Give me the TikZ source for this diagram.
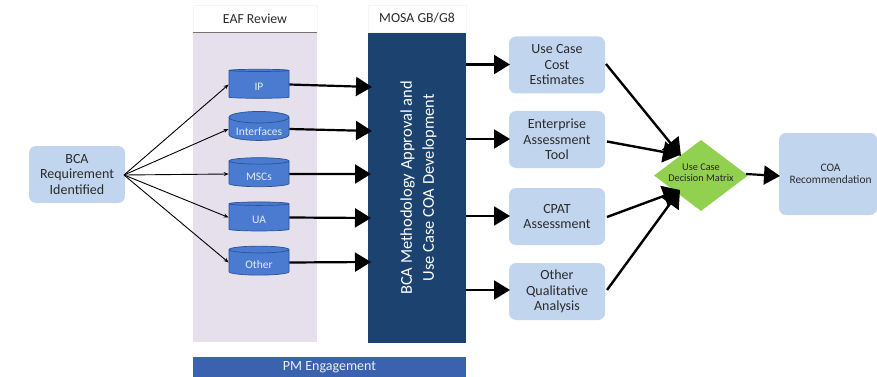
\documentclass[tikz,border=0pt]{standalone}
\usepackage{fontspec}
\setmainfont{Carlito}
\usetikzlibrary{shapes.symbols,shapes.geometric,arrows.meta}
\definecolor{boxfill}{HTML}{C2D5EE}
\definecolor{bandfill}{HTML}{E6E0EC}
\definecolor{mosafill}{HTML}{1C4370}
\definecolor{pmfill}{HTML}{3A62AE}
\definecolor{cylfill}{HTML}{4A7BD0}
\definecolor{cylline}{HTML}{2A5298}
\definecolor{txt}{HTML}{2B2B2B}
\definecolor{diamondgreen}{HTML}{92D050}
\newcommand{\dbtext}[1]{\raisebox{-2.5pt}[\height][0pt]{#1}}
\tikzset{
  softbox/.style={draw=none,fill=boxfill,rounded corners=7pt,inner sep=0pt,align=center,text=txt,font=\fontsize{14}{15.5}\selectfont},
  db/.style={cylinder,shape border rotate=90,aspect=0.25,draw=cylline,line width=0.7pt,fill=cylfill,minimum width=60pt,minimum height=29pt,inner sep=0pt,text=white!85!cylfill,font=\fontsize{11.5}{12}\selectfont},
  head/.style={draw=black!4,line width=0.5pt,fill=white,inner sep=0pt,text=txt,font=\fontsize{13.8}{15}\selectfont},
  fan/.style={-{Stealth[length=5pt,width=4pt]},line width=0.9pt,black},
  heavy/.style={-{Triangle[length=16pt,width=19pt]},line width=2.2pt,black},
  heavier/.style={-{Triangle[length=17pt,width=21pt]},line width=2.4pt,black},
}
\begin{document}
\begin{tikzpicture}[x=1pt,y=-1pt]
\useasboundingbox (0,0) rectangle (877,377);
\fill[white] (0,0) rectangle (877,377);
% bands and headers
\node[fill=bandfill,inner sep=0pt,minimum width=124pt,minimum height=310pt] (eaf) at (255,187) {};
\node[head,minimum width=124pt,minimum height=27pt] (eafh) at (255,18.5) {EAF Review};
\draw[black!55,line width=0.6pt] (eafh.south west) -- (eafh.south east);
\node[fill=mosafill,inner sep=0pt,minimum width=98pt,minimum height=311pt] (mosa) at (417,187.5) {};
\node[head,minimum width=98pt,minimum height=27pt] (mosah) at (417,18.5) {MOSA GB/G8};
\node[rotate=90,text=white,align=center,inner sep=0pt,font=\fontsize{16.5}{22}\selectfont] (mosat) at (418.5,188) {BCA Methodology Approval and\\Use Case COA Development};
\node[fill=pmfill,inner sep=0pt,minimum width=273pt,minimum height=20pt,text=white!90!pmfill,font=\fontsize{14}{15}\selectfont] (pm) at (329.5,367) {PM Engagement};
% boxes
\node[softbox,minimum width=96pt,minimum height=57pt] (bca) at (77,174.5) {BCA\\Requirement\\Identified};
\node[db] (ip) at (259,84.5) {\dbtext{IP}};
\node[db] (if) at (259,129) {\dbtext{Interfaces}};
\node[db] (ms) at (259,174) {\dbtext{MSCs}};
\node[db] (ua) at (259,217.5) {\dbtext{UA}};
\node[db] (ot) at (259,262.5) {\dbtext{Other}};
\node[softbox,minimum width=96pt,minimum height=57pt] (uc) at (557,65) {Use Case\\Cost\\Estimates};
\node[softbox,minimum width=96pt,minimum height=57pt] (ea) at (557,139.5) {Enterprise\\Assessment\\Tool};
\node[softbox,minimum width=96pt,minimum height=57pt] (cp) at (557,216.5) {CPAT\\Assessment};
\node[softbox,minimum width=96pt,minimum height=57pt] (oq) at (557,291.5) {Other\\Qualitative\\Analysis};
\node[diamond,fill=diamondgreen,inner sep=0pt,minimum width=94pt,minimum height=71pt,label={[text=black!85,align=center,inner sep=0pt,yshift=3pt,font=\fontsize{10.3}{11}\selectfont]center:Use Case\\Decision Matrix}] (dm) at (701,175.5) {};
\node[softbox,minimum width=98pt,minimum height=82pt,font=\fontsize{11.4}{12}\selectfont] (coa) at (828,174) {\hspace*{5pt}COA\\\hspace*{5pt}Recommendation};
% free ends
\coordinate (fan) at (124,175);
\coordinate (m1) at (372,87); \coordinate (m2) at (372,131); \coordinate (m3) at (371,174); \coordinate (m4) at (371,218); \coordinate (m5) at (371,262);
\coordinate (o1) at (466,64.5); \coordinate (o2) at (466,139); \coordinate (o3) at (466,216); \coordinate (o4) at (466,290);
\coordinate (u1) at (510,64.5); \coordinate (u2) at (510,139); \coordinate (u3) at (510,216); \coordinate (u4) at (510,290);
\coordinate (d1) at (681,156); \coordinate (d2) at (680,155); \coordinate (d3) at (680,190); \coordinate (d4) at (680,190);
\coordinate (s1) at (606,64); \coordinate (s2) at (607,141.5); \coordinate (s3) at (607,217); \coordinate (s4) at (607,290);
\coordinate (dr) at (746,174); \coordinate (ci) at (780,176);
% connectors
\draw[fan] (fan) -- (ip.west);
\draw[fan] (fan) -- (if.west);
\draw[fan] (fan) -- (ms.west);
\draw[fan] (fan) -- (ua.west);
\draw[fan] (fan) -- (ot.west);
\draw[heavy] (ip.east) -- (m1);
\draw[heavy] (if.east) -- (m2);
\draw[heavy] (ms.east) -- (m3);
\draw[heavy] (ua.east) -- (m4);
\draw[heavy] (ot.east) -- (m5);
\draw[heavy] (o1) -- (u1);
\draw[heavy] (o2) -- (u2);
\draw[heavy] (o3) -- (u3);
\draw[heavy] (o4) -- (u4);
\draw[heavier] (s1) -- (d1);
\draw[heavier] (s2) -- (d2);
\draw[heavier] (s3) -- (d3);
\draw[heavier] (s4) -- (d4);
\draw[heavy] (dr) -- (ci);
\end{tikzpicture}
\end{document}
